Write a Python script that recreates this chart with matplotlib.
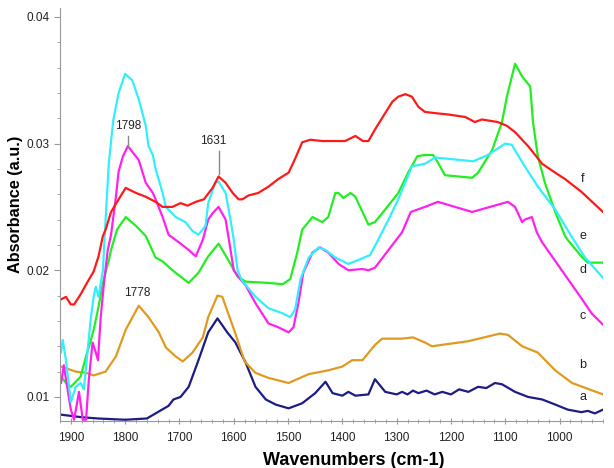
import matplotlib
matplotlib.use('Agg')
import matplotlib.pyplot as plt
from matplotlib.ticker import MultipleLocator, FixedLocator

plt.rcParams['font.family'] = ['Liberation Sans', 'DejaVu Sans']

# spectrum a (navy)
wn_a = [1918, 1880, 1850, 1800, 1760, 1744, 1720, 1711, 1698, 1683, 1665, 1647, 1630, 1612, 1597,
        1578, 1560, 1541, 1523, 1499, 1474, 1450, 1431, 1418, 1400, 1389, 1376, 1352, 1340, 1321,
        1300, 1290, 1280, 1270, 1260, 1245, 1230, 1216, 1200, 1185, 1168, 1150, 1135, 1119, 1106,
        1082, 1058, 1032, 1008, 985, 960, 948, 935, 920]
abs_a = [0.0086, 0.0084, 0.0083, 0.0082, 0.0083, 0.0087, 0.0093, 0.0098, 0.0100, 0.0108, 0.0129, 0.0151, 0.0162, 0.0151, 0.0143,
         0.0127, 0.0108, 0.0098, 0.0094, 0.0091, 0.0095, 0.0103, 0.0112, 0.0103, 0.0101, 0.0104, 0.0101, 0.0102, 0.0114, 0.0104,
         0.0102, 0.0104, 0.0102, 0.0105, 0.0103, 0.0105, 0.0102, 0.0104, 0.0102, 0.0106, 0.0104, 0.0108, 0.0107, 0.0111, 0.0110,
         0.0104, 0.0100, 0.0098, 0.0094, 0.0090, 0.0088, 0.0089, 0.0087, 0.0090]

# spectrum b (orange)
wn_b = [1918, 1891, 1872, 1858, 1836, 1817, 1799, 1775, 1757, 1738, 1725, 1707, 1694, 1676, 1657,
        1647, 1630, 1621, 1597, 1580, 1560, 1536, 1499, 1462, 1426, 1400, 1382, 1363, 1340, 1327,
        1290, 1270, 1248, 1235, 1168, 1110, 1095, 1069, 1040, 1008, 977, 920]
abs_b = [0.0124, 0.0120, 0.0119, 0.0117, 0.0120, 0.0132, 0.0153, 0.0172, 0.0163, 0.0151, 0.0139, 0.0132, 0.0128, 0.0135, 0.0147,
         0.0163, 0.0180, 0.0179, 0.0150, 0.0128, 0.0119, 0.0115, 0.0111, 0.0118, 0.0121, 0.0124, 0.0129, 0.0129, 0.0141, 0.0146,
         0.0146, 0.0147, 0.0143, 0.0140, 0.0144, 0.0150, 0.0149, 0.0140, 0.0135, 0.0121, 0.0111, 0.0102]

# spectrum c (magenta)
wn_c = [1918, 1913, 1906, 1900, 1894, 1885, 1878, 1872, 1867, 1860, 1854, 1850, 1845, 1839, 1832,
        1826, 1817, 1812, 1804, 1795, 1775, 1762, 1749, 1744, 1731, 1720, 1701, 1683, 1670, 1657,
        1647, 1639, 1628, 1615, 1610, 1600, 1590, 1578, 1560, 1536, 1518, 1499, 1490, 1481, 1472,
        1455, 1441, 1426, 1407, 1389, 1363, 1352, 1340, 1315, 1290, 1274, 1248, 1224, 1161, 1095,
        1082, 1069, 1064, 1051, 1042, 1032, 996, 960, 941, 920]
abs_c = [0.0111, 0.0125, 0.0106, 0.0090, 0.0082, 0.0104, 0.0082, 0.0082, 0.0113, 0.0143, 0.0135, 0.0129, 0.0163, 0.0190, 0.0216,
         0.0228, 0.0258, 0.0278, 0.0290, 0.0298, 0.0287, 0.0269, 0.0261, 0.0256, 0.0242, 0.0228, 0.0222, 0.0216, 0.0211, 0.0224,
         0.0240, 0.0245, 0.0250, 0.0240, 0.0227, 0.0200, 0.0194, 0.0188, 0.0174, 0.0158, 0.0155, 0.0151, 0.0155, 0.0174, 0.0198,
         0.0214, 0.0218, 0.0214, 0.0205, 0.0200, 0.0201, 0.0200, 0.0202, 0.0216, 0.0230, 0.0246, 0.0250, 0.0254, 0.0246, 0.0254,
         0.0250, 0.0238, 0.0240, 0.0242, 0.0230, 0.0222, 0.0200, 0.0178, 0.0166, 0.0157]

# spectrum d (cyan)
wn_d = [1918, 1915, 1909, 1900, 1891, 1882, 1876, 1869, 1863, 1858, 1854, 1849, 1841, 1836, 1830,
        1822, 1812, 1800, 1787, 1775, 1762, 1757, 1749, 1744, 1731, 1725, 1707, 1689, 1676, 1665,
        1652, 1647, 1634, 1628, 1615, 1606, 1600, 1593, 1585, 1560, 1536, 1510, 1496, 1487, 1477,
        1462, 1444, 1431, 1413, 1389, 1371, 1349, 1334, 1315, 1297, 1272, 1248, 1229, 1159, 1132,
        1100, 1088, 1064, 1040, 1008, 977, 953, 920]
abs_d = [0.0135, 0.0145, 0.0129, 0.0096, 0.0108, 0.0111, 0.0106, 0.0137, 0.0163, 0.0179, 0.0187, 0.0179, 0.0200, 0.0240, 0.0285,
         0.0318, 0.0340, 0.0355, 0.0350, 0.0335, 0.0314, 0.0298, 0.0291, 0.0280, 0.0261, 0.0250, 0.0242, 0.0238, 0.0231, 0.0228,
         0.0235, 0.0253, 0.0269, 0.0270, 0.0261, 0.0240, 0.0224, 0.0200, 0.0192, 0.0179, 0.0170, 0.0166, 0.0163, 0.0169, 0.0193,
         0.0210, 0.0218, 0.0216, 0.0210, 0.0205, 0.0208, 0.0212, 0.0224, 0.0240, 0.0256, 0.0282, 0.0284, 0.0289, 0.0286, 0.0291,
         0.0300, 0.0299, 0.0282, 0.0266, 0.0248, 0.0226, 0.0210, 0.0194]

# spectrum e (green)
wn_e = [1918, 1909, 1900, 1891, 1882, 1872, 1863, 1858, 1850, 1841, 1830, 1826, 1815, 1799, 1780,
        1762, 1744, 1731, 1713, 1683, 1665, 1647, 1628, 1610, 1593, 1578, 1536, 1510, 1496, 1483,
        1474, 1455, 1437, 1426, 1413, 1407, 1398, 1385, 1376, 1363, 1352, 1340, 1321, 1297, 1279,
        1262, 1248, 1233, 1224, 1211, 1161, 1150, 1124, 1106, 1097, 1082, 1069, 1054, 1049, 1040,
        1027, 1008, 990, 985, 960, 948, 920]
abs_e = [0.0116, 0.0111, 0.0108, 0.0112, 0.0116, 0.0132, 0.0145, 0.0153, 0.0169, 0.0190, 0.0208, 0.0216, 0.0232, 0.0242, 0.0235,
         0.0227, 0.0210, 0.0207, 0.0200, 0.0190, 0.0198, 0.0211, 0.0221, 0.0208, 0.0195, 0.0191, 0.0190, 0.0189, 0.0193, 0.0214,
         0.0232, 0.0242, 0.0238, 0.0242, 0.0261, 0.0261, 0.0257, 0.0261, 0.0258, 0.0246, 0.0236, 0.0238, 0.0248, 0.0261, 0.0277,
         0.0290, 0.0291, 0.0291, 0.0285, 0.0275, 0.0273, 0.0277, 0.0295, 0.0317, 0.0337, 0.0363, 0.0353, 0.0345, 0.0317, 0.0290,
         0.0269, 0.0246, 0.0227, 0.0224, 0.0211, 0.0206, 0.0206]

# spectrum f (red)
wn_f = [1918, 1909, 1900, 1894, 1882, 1869, 1858, 1849, 1841, 1836, 1826, 1812, 1799, 1780, 1762,
        1744, 1731, 1713, 1698, 1685, 1670, 1655, 1639, 1628, 1615, 1602, 1591, 1584, 1573, 1555,
        1536, 1518, 1499, 1487, 1474, 1459, 1437, 1395, 1376, 1362, 1352, 1340, 1327, 1308, 1297,
        1284, 1272, 1260, 1248, 1229, 1206, 1174, 1156, 1143, 1114, 1097, 1082, 1058, 1032, 1008,
        990, 960, 920]
abs_f = [0.0177, 0.0179, 0.0173, 0.0173, 0.0181, 0.0191, 0.0199, 0.0211, 0.0227, 0.0232, 0.0246, 0.0256, 0.0265, 0.0261, 0.0258,
         0.0254, 0.0250, 0.0250, 0.0253, 0.0251, 0.0254, 0.0256, 0.0265, 0.0274, 0.0269, 0.0261, 0.0256, 0.0256, 0.0259, 0.0261,
         0.0266, 0.0272, 0.0277, 0.0288, 0.0301, 0.0303, 0.0302, 0.0302, 0.0306, 0.0302, 0.0302, 0.0311, 0.0320, 0.0333, 0.0337,
         0.0339, 0.0337, 0.0329, 0.0325, 0.0324, 0.0323, 0.0321, 0.0317, 0.0319, 0.0317, 0.0314, 0.0309, 0.0298, 0.0284, 0.0277,
         0.0272, 0.0262, 0.0246]

curve_labels = ['a', 'b', 'c', 'd', 'e', 'f']
label_y = [0.0100, 0.0125, 0.0164, 0.0200, 0.0227, 0.0272]
peak_labels = ['1798', '1631', '1778']

fig = plt.figure(figsize=(6.14, 4.68), dpi=100)
ax = fig.add_axes([0.0977, 0.1004, 0.8844, 0.8825])

lw = 1.6
style = dict(lw=lw, solid_joinstyle='round', solid_capstyle='round')
ax.plot(wn_a, abs_a, color='#1c1c84', **style)
ax.plot(wn_b, abs_b, color='#e09a22', **style)
ax.plot(wn_e, abs_e, color='#22ee22', **style)
ax.plot(wn_c, abs_c, color='#ff22ee', **style)
ax.plot(wn_d, abs_d, color='#33eeff', **style)
ax.plot(wn_f, abs_f, color='#ff1a1a', **style)

ax.set_xlim(1920, 920)
ax.set_ylim(0.0081, 0.0407)

# peak annotations
ax.text(1795, 0.0314, peak_labels[0], ha='center', va='center', fontsize=8.5, color='#222222')
ax.plot([1795, 1795], [0.0297, 0.0306], color='#888888', lw=1)
ax.text(1637, 0.0302, peak_labels[1], ha='center', va='center', fontsize=8.5, color='#222222')
ax.plot([1628, 1628], [0.0276, 0.0294], color='#888888', lw=1)
ax.text(1777, 0.0182, peak_labels[2], ha='center', va='center', fontsize=8.5, color='#222222')

for lab, yy in zip(curve_labels, label_y):
    ax.text(957, yy, lab, ha='center', va='center', fontsize=9, color='#222222')

for s in ['top', 'right']:
    ax.spines[s].set_visible(False)
for s in ['left', 'bottom']:
    ax.spines[s].set_color('#999999')
    ax.spines[s].set_linewidth(0.8)

ax.yaxis.set_major_locator(FixedLocator([0.01, 0.02, 0.03, 0.04]))
ax.yaxis.set_minor_locator(MultipleLocator(0.002))
ax.xaxis.set_major_locator(MultipleLocator(100))
ax.xaxis.set_minor_locator(MultipleLocator(20))
ax.tick_params(axis='both', which='major', labelsize=8.5, colors='#999999', labelcolor='#222222', length=4)
ax.tick_params(axis='both', which='minor', colors='#999999', length=2.5)
ax.tick_params(axis='x', which='both', direction='inout', pad=6)

ax.set_ylabel('Absorbance (a.u.)', fontsize=11.7, fontweight='bold')
ax.yaxis.set_label_coords(-0.068, 0.525)
ax.set_xlabel('Wavenumbers (cm-1)', fontsize=13, fontweight='bold')
ax.xaxis.set_label_coords(0.541, -0.075)

fig.savefig('out.png', dpi=100)
